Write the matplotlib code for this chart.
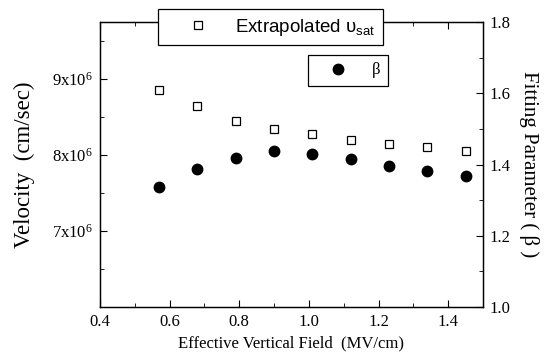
import matplotlib
matplotlib.use("Agg")
import matplotlib.pyplot as plt
from matplotlib.ticker import FixedLocator, FuncFormatter, MultipleLocator
from matplotlib.lines import Line2D

# data
field = [0.57, 0.68, 0.79, 0.90, 1.01, 1.12, 1.23, 1.34, 1.45]
vsat = [8.86e6, 8.64e6, 8.45e6, 8.34e6, 8.27e6, 8.20e6, 8.15e6, 8.11e6, 8.05e6]
beta = [1.337, 1.387, 1.418, 1.438, 1.430, 1.415, 1.396, 1.382, 1.368]

vel_ticks = [7e6, 8e6, 9e6]
beta_ticks = [1.0, 1.2, 1.4, 1.6, 1.8]
field_ticks = [0.4, 0.6, 0.8, 1.0, 1.2, 1.4]

plt.rcParams["font.family"] = ["Liberation Serif", "DejaVu Serif"]
plt.rcParams["mathtext.default"] = "regular"

fig = plt.figure(figsize=(5.54, 3.56), dpi=100)
ax = fig.add_axes([100 / 554, 1 - 307 / 356, 383 / 554, 285 / 356])
ax2 = ax.twinx()

ax.plot(field, vsat, linestyle="none", marker="s", markersize=6,
        markerfacecolor="white", markeredgecolor="black", markeredgewidth=0.9)
ax2.plot(field, beta, linestyle="none", marker="o", markersize=7.5,
         color="black")

ax.set_xlim(0.4, 1.5)
ax.set_ylim(6e6, 9.75e6)
ax2.set_ylim(1.0, 1.8)

ax.set_xticks(field_ticks)
ax.xaxis.set_major_formatter(FuncFormatter(lambda v, p: f"{v:.1f}"))
ax.xaxis.set_minor_locator(MultipleLocator(0.1))
ax.yaxis.set_major_locator(FixedLocator(vel_ticks))
ax.yaxis.set_minor_locator(FixedLocator([6.5e6, 7.5e6, 8.5e6, 9.5e6]))
ax.yaxis.set_major_formatter(FuncFormatter(lambda v, p: f"{v / 1e6:.0f}x10$^6$"))
ax2.set_yticks(beta_ticks)
ax2.yaxis.set_major_formatter(FuncFormatter(lambda v, p: f"{v:.1f}"))
ax2.yaxis.set_minor_locator(MultipleLocator(0.1))

ax.tick_params(which="both", direction="in", top=True, labelsize=12, pad=5)
ax.tick_params(which="major", length=5)
ax.tick_params(which="minor", length=3)
ax2.tick_params(which="both", direction="in", labelsize=12, pad=5)
ax2.tick_params(which="major", length=5)
ax2.tick_params(which="minor", length=3)

for a in (ax, ax2):
    for s in a.spines.values():
        s.set_linewidth(0.9)

ax.set_xlabel("Effective Vertical Field  (MV/cm)", fontsize=12, labelpad=4)
ax.set_ylabel("Velocity  (cm/sec)", fontsize=16.5, labelpad=12)
ax2.set_ylabel("Fitting Parameter ( β )", fontsize=15, rotation=270, labelpad=20)

h1 = Line2D([], [], linestyle="none", marker="s", markersize=6,
            markerfacecolor="white", markeredgecolor="black", markeredgewidth=0.9)
h2 = Line2D([], [], linestyle="none", marker="o", markersize=7.5, color="black")

leg1 = fig.legend([h1], ["Extrapolated υ$_{sat}$ "], loc="upper left",
                  bbox_to_anchor=(158 / 554, 1 - 9 / 356), frameon=True,
                  fancybox=False, framealpha=1, edgecolor="black",
                  prop={"family": "Liberation Sans", "size": 13.5},
                  borderpad=0.4, handlelength=3.5, handletextpad=0.2,
                  borderaxespad=0)
leg1.get_frame().set_linewidth(0.9)
leg1.set_zorder(10)

leg2 = fig.legend([h2], ["β"], loc="upper left",
                  bbox_to_anchor=(308 / 554, 1 - 55 / 356), frameon=True,
                  fancybox=False, framealpha=1, edgecolor="black",
                  prop={"family": "Liberation Serif", "size": 12},
                  borderpad=0.45, handlelength=2.7, handletextpad=0.7,
                  borderaxespad=0)
leg2.get_frame().set_linewidth(0.9)

fig.savefig("out.png", dpi=100)
